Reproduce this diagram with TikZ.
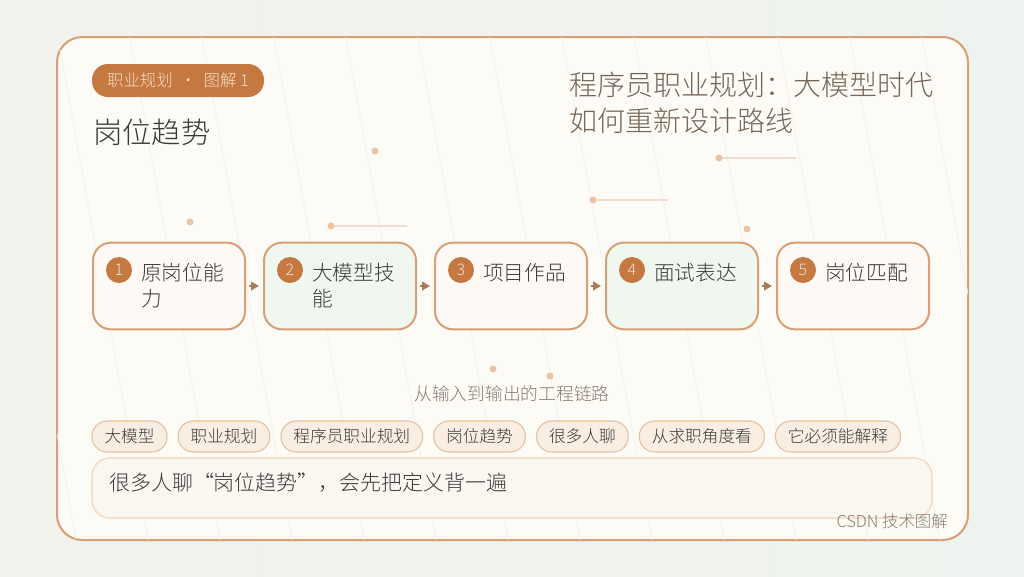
\documentclass[tikz,border=0pt]{standalone}
\usepackage{fontspec}
\setmainfont{Noto Sans CJK SC}[UprightFont=* Light]
\usetikzlibrary{positioning,arrows.meta}
\definecolor{bgleft}{HTML}{F3F1EB}
\definecolor{bgright}{HTML}{EDF3EE}
\definecolor{cardfill}{HTML}{FCFBF6}
\definecolor{cardline}{HTML}{D89F77}
\definecolor{accent}{HTML}{C57840}
\definecolor{numtext}{HTML}{F5DFCB}
\definecolor{warmfill}{HTML}{FEF9F4}
\definecolor{mintfill}{HTML}{EFF7EF}
\definecolor{tagfill}{HTML}{FAEEE3}
\definecolor{tagline}{HTML}{E6C0A2}
\definecolor{quotefill}{HTML}{FBF6EF}
\definecolor{quoteline}{HTML}{EED3BD}
\definecolor{dotc}{HTML}{E8C3A5}
\definecolor{dotline}{HTML}{EEDDCD}
\definecolor{hatchc}{HTML}{F2F1EA}
\definecolor{ink}{HTML}{3A3A3A}
\definecolor{headink}{HTML}{766657}
\definecolor{softink}{HTML}{8C7B6D}
\definecolor{arrowc}{HTML}{A97B58}
\tikzset{
  stepbox/.style={draw=cardline, line width=1.5pt, rounded corners=13.5pt,
    minimum width=114pt, minimum height=65pt},
  warm/.style={stepbox, fill=warmfill},
  mint/.style={stepbox, fill=mintfill},
  numdot/.style={circle, fill=accent, text=numtext, minimum size=19.5pt,
    inner sep=0pt, font=\fontsize{12}{12}\selectfont},
  steptext/.style={anchor=north west, inner sep=0pt, align=left, text=ink,
    font=\fontsize{15.5}{19.5}\selectfont},
  flow/.style={draw=arrowc, line width=1.5pt, -{Triangle[length=6pt,width=6.5pt]},
    shorten <=2.5pt, shorten >=3pt},
  tag/.style={draw=tagline, fill=tagfill, line width=0.8pt, rounded corners=11.5pt,
    minimum height=23.25pt, inner xsep=9.4pt, text=ink,
    font=\fontsize{12.5}{12.5}\selectfont},
  deco/.style={fill=dotc, draw=none},
}
\begin{document}
\begin{tikzpicture}[x=0.75pt,y=-0.75pt]
\useasboundingbox (0,0) rectangle (1024,576);
\shade[left color=bgleft, right color=bgright] (0,0) rectangle (1024,576);
\draw[cardline, line width=1.5pt, fill=cardfill, rounded corners=19pt] (57,37) rectangle (968,540);
\begin{scope}
\clip[rounded corners=19pt] (57,37) rectangle (968,540);
\foreach \x in {-14,58,...,922}
  \draw[hatchc, line width=0.6pt] (\x,37) -- (\x+90,540);
\end{scope}

% header
\node[fill=accent, text=numtext, rounded corners=12pt, minimum width=129pt, minimum height=24.75pt,
  font=\fontsize{12.3}{12.3}\selectfont] (badge) at (178,80.5) {职业规划 \ · \ 图解 1};
\node[anchor=west, inner sep=0pt, text=ink, font=\fontsize{22}{22}\selectfont] (title) at (93,132) {岗位趋势};
\node[anchor=north west, inner sep=0pt, align=left, text=headink, font=\fontsize{21}{27}\selectfont]
  (headline) at (569,72) {程序员职业规划：大模型时代\\如何重新设计路线};

% dots
\filldraw[deco] (375,151) circle (2.6pt);
\filldraw[deco] (190,222) circle (2.6pt);
\draw[dotline, line width=0.8pt] (331,226) -- (407,226);
\filldraw[deco] (331,226) circle (2.6pt);
\draw[dotline, line width=0.8pt] (593,200) -- (668,200);
\filldraw[deco] (593,200) circle (2.6pt);
\draw[dotline, line width=0.8pt] (719,158) -- (796,158);
\filldraw[deco] (719,158) circle (2.6pt);
\filldraw[deco] (747,229) circle (2.6pt);
\filldraw[deco] (493,369) circle (2.6pt);
\filldraw[deco] (550,376) circle (2.6pt);

% steps
\node[warm] (s1) at (169,286) {};
\node[mint] (s2) at (340,286) {};
\node[warm] (s3) at (511,286) {};
\node[mint] (s4) at (682,286) {};
\node[warm] (s5) at (853,286) {};
\node[numdot] (n1) at (119,270) {1};
\node[numdot] (n2) at (290,270) {2};
\node[numdot] (n3) at (461,270) {3};
\node[numdot] (n4) at (632,270) {4};
\node[numdot] (n5) at (803,270) {5};
\node[steptext] (l1) at (141,263) {原岗位能\\力};
\node[steptext] (l2) at (312,263) {大模型技\\能};
\node[steptext] (l3) at (483,263) {项目作品};
\node[steptext] (l4) at (654,263) {面试表达};
\node[steptext] (l5) at (825,263) {岗位匹配};
\draw[flow] (s1) -- (s2);
\draw[flow] (s2) -- (s3);
\draw[flow] (s3) -- (s4);
\draw[flow] (s4) -- (s5);

\node[text=softink, font=\fontsize{13.3}{13.3}\selectfont] (caption) at (512,394) {从输入到输出的工程链路};

% tags
\node[tag] (t1) at (129.5,436.5) {大模型};
\node[tag, right=7.5pt of t1] (t2) {职业规划};
\node[tag, right=7.5pt of t2] (t3) {程序员职业规划};
\node[tag, right=7.5pt of t3] (t4) {岗位趋势};
\node[tag, right=7.5pt of t4] (t5) {很多人聊};
\node[tag, right=7.5pt of t5] (t6) {从求职角度看};
\node[tag, right=7.5pt of t6] (t7) {它必须能解释};

\node[draw=quoteline, fill=quotefill, line width=0.8pt, rounded corners=13.5pt,
  minimum width=630pt, minimum height=45pt] (quote) at (512,488) {};
\node[anchor=west, inner sep=0pt, text=ink, font=\fontsize{15.7}{15.7}\selectfont]
  (quotetext) at (109,483) {很多人聊“岗位趋势”，会先把定义背一遍};

\node[anchor=east, inner sep=0pt, text=softink, font=\fontsize{12.3}{12.3}\selectfont]
  (brand) at (948,521) {CSDN 技术图解};
\end{tikzpicture}
\end{document}
